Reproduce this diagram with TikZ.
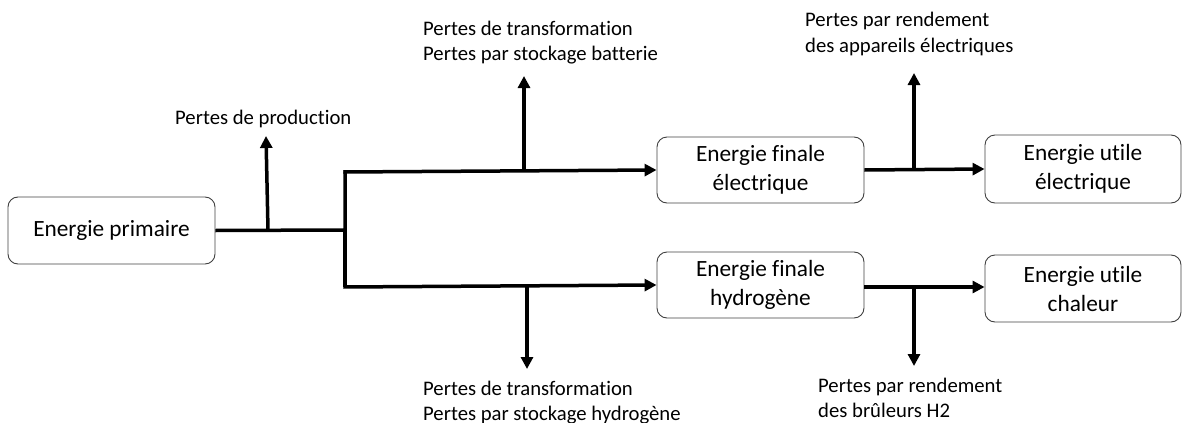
\documentclass[tikz,border=0pt]{standalone}
\usepackage{fontspec}
\setmainfont{Carlito}[Ligatures=NoCommon]
\usetikzlibrary{arrows.meta}
\begin{document}
\begin{tikzpicture}[x=1pt,y=-1pt,
  box/.style={draw=black!75,line width=0.9pt,rounded corners=10pt,align=center,
    font=\fontsize{23.3}{29}\selectfont,inner sep=0pt},
  flow/.style={line width=3.5pt},
  flowarr/.style={line width=3.5pt,-{Triangle[length=12pt,width=12pt]}},
  lbl/.style={align=left,anchor=base west,inner sep=0pt,font=\fontsize{20.7}{25}\selectfont}]
\useasboundingbox (0,0) rectangle (1184,423);
\node[box,minimum width=207pt,minimum height=67pt] (prim) at (111.5,230.5) {Energie primaire};
\node[box,minimum width=207pt,minimum height=66pt] (fe) at (760.5,170) {Energie finale\\électrique};
\node[box,minimum width=207pt,minimum height=66pt] (fh) at (760.5,285) {Energie finale\\hydrogène};
\node[box,minimum width=196pt,minimum height=68pt] (ue) at (1083,169) {Energie utile\\électrique};
\node[box,minimum width=196pt,minimum height=67pt] (uc) at (1083,288.5) {Energie utile\\chaleur};

\coordinate (j) at (345,230);
\coordinate (jt) at (345,172);
\coordinate (jb) at (345,287);
\coordinate (p1) at (268,230);
\coordinate (p1t) at (266,136);
\coordinate (p2) at (524,171);
\coordinate (p2t) at (524,76);
\coordinate (p3) at (527,286);
\coordinate (p3t) at (527,369);
\coordinate (p4) at (914,170);
\coordinate (p4t) at (914,73);
\coordinate (p5) at (914,287);
\coordinate (p5t) at (914,366);

\draw[flow,line join=miter] (prim.east) -- (j) -- (jt);
\draw[flow] (j) -- (jb);
\draw[flowarr] ([xshift=-1.75pt]jt) -- (fe.west);
\draw[flowarr] ([xshift=-1.75pt]jb) -- (fh.west);
\draw[flowarr] (fe.east) -- (ue.west);
\draw[flowarr] (fh.east |- p5) -- (uc.west |- p5);
\draw[flowarr] (p1) -- (p1t);
\draw[flowarr] (p2) -- (p2t);
\draw[flowarr] (p3) -- (p3t);
\draw[flowarr] (p4) -- (p4t);
\draw[flowarr] (p5) -- (p5t);

\node[lbl] (l1) at (175,124) {Pertes de production};
\node[lbl] (l2) at (423,60) {Pertes de transformation\\Pertes par stockage batterie};
\node[lbl] (l3) at (423,420) {Pertes de transformation\\Pertes par stockage hydrogène};
\node[lbl] (l4) at (805,52) {Pertes par rendement\\des appareils électriques};
\node[lbl] (l5) at (818,417) {Pertes par rendement\\des brûleurs H2};
\end{tikzpicture}
\end{document}
